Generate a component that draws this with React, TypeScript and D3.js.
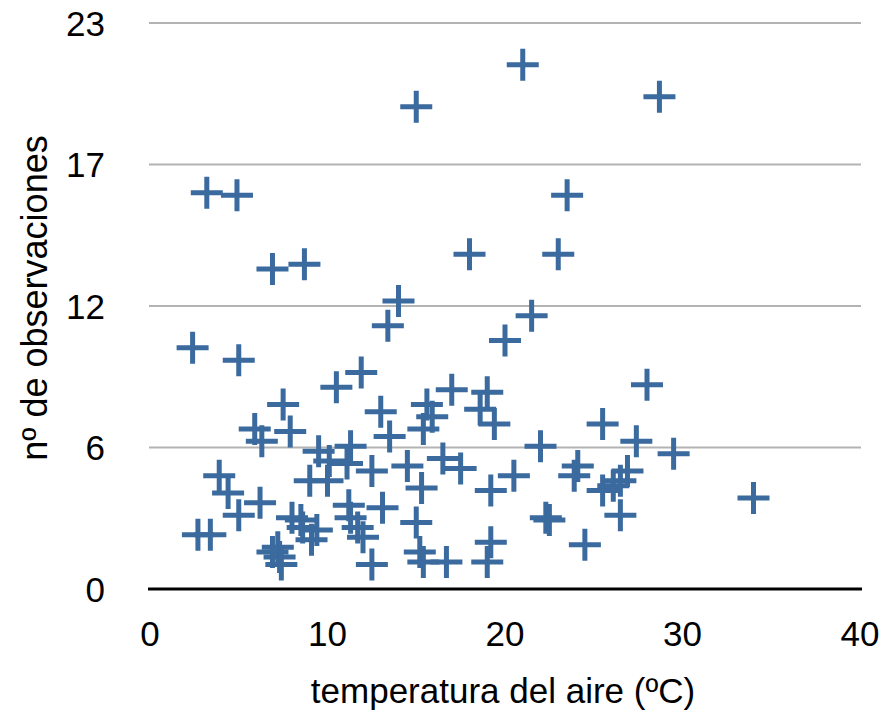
import React from "react";
import * as d3 from "d3";

// temperatura del aire (ºC)
const temperatures = [
  21.0, 15.0, 28.7, 3.2, 4.9, 6.9, 8.7, 14.0, 13.4, 18.0, 23.5, 23.0, 20.0, 21.5,
  2.4, 5.0, 7.5, 5.9, 6.3, 7.9, 10.5, 11.9, 13.0, 13.5, 9.5, 11.3, 10.1, 11.1,
  9.0, 10.0, 12.5, 3.9, 4.4, 5.0, 6.2, 2.7, 3.4, 8.5, 8.6, 9.1, 11.2, 11.3,
  11.7, 12.0, 13.1, 12.5, 7.2, 7.3, 6.9, 7.4, 17.0, 15.6, 15.9, 15.4, 19.0, 18.6,
  19.4, 25.5, 22.0, 14.5, 15.3, 16.5, 17.5, 19.2, 20.5, 24.1, 23.9, 25.5, 26.1, 26.5,
  15.0, 22.3, 22.5, 15.2, 15.4, 16.7, 19.2, 19.0, 24.5, 28.0, 27.4, 29.5, 26.9, 26.5,
  34.0, 8.0, 9.4,
];

// nº de observaciones
const observations = [
  21.3, 19.6, 20.0, 16.1, 16.0, 13.0, 13.2, 11.7, 10.7, 13.6, 16.0, 13.6, 10.1, 11.1,
  9.8, 9.3, 7.5, 6.5, 6.0, 6.4, 8.2, 8.8, 7.2, 6.2, 5.6, 5.8, 5.2, 5.1,
  4.4, 4.4, 4.8, 4.6, 3.9, 3.0, 3.5, 2.2, 2.2, 2.8, 2.5, 2.0, 3.4, 2.9,
  2.5, 2.1, 3.3, 1.0, 1.7, 1.3, 1.5, 1.0, 8.1, 7.5, 7.0, 6.5, 8.0, 7.3,
  6.7, 6.7, 5.8, 5.0, 4.1, 5.3, 4.9, 4.0, 4.6, 5.0, 4.6, 4.0, 4.2, 4.4,
  2.7, 2.9, 2.8, 1.5, 1.1, 1.1, 1.9, 1.1, 1.8, 8.3, 6.0, 5.5, 4.8, 3.0,
  3.7, 2.9, 2.4,
];

const xTicks = [0, 10, 20, 30, 40];
const yTicks = [0, 5.75, 11.5, 17.25, 23];
const yTickLabels = ["0", "6", "12", "17", "23"];

const width = 883;
const height = 713;
const margin = { top: 23, right: 23, bottom: 124, left: 150 };
const font = "'Liberation Sans', Arial, Helvetica, sans-serif";

const App = () => {
  const x = d3.scaleLinear().domain([0, 40]).range([margin.left, width - margin.right]);
  const y = d3.scaleLinear().domain([0, 23]).range([height - margin.bottom, margin.top]);

  const points = temperatures.map((t, i) => ({ t, n: observations[i] }));
  const arm = 16;

  return (
    <>
      <style>{"body{margin:0}"}</style>
      <svg width={width} height={height} style={{ display: "block", background: "#fff" }}>
        {/* gridlines */}
        {yTicks.slice(1).map((v) => (
          <line key={v} x1={margin.left - 1} x2={width - margin.right + 1} y1={y(v)} y2={y(v)}
            stroke="#b3b3b3" strokeWidth={2} />
        ))}
        {/* x axis line */}
        <line x1={margin.left - 2} x2={width - margin.right + 2} y1={y(0)} y2={y(0)}
          stroke="#000" strokeWidth={3} />

        {/* y tick labels */}
        {yTicks.map((v, i) => (
          <text key={v} x={margin.left - 45} y={y(v)} textAnchor="end" dominantBaseline="central"
            fontFamily={font} fontSize={35} fill="#000">
            {yTickLabels[i]}
          </text>
        ))}
        {/* x tick labels */}
        {xTicks.map((v) => (
          <text key={v} x={x(v)} y={y(0) + 44} textAnchor="middle" dominantBaseline="central"
            fontFamily={font} fontSize={35} fill="#000">
            {v}
          </text>
        ))}

        {/* axis titles */}
        <text x={(margin.left + width - margin.right) / 2 - 2} y={690} textAnchor="middle"
          dominantBaseline="central" fontFamily={font} fontSize={35} fill="#000">
          temperatura del aire (ºC)
        </text>
        <text transform={`translate(34,${(margin.top + y(0)) / 2 - 8}) rotate(-90)`} textAnchor="middle"
          dominantBaseline="central" fontFamily={font} fontSize={36} fill="#000">
          nº de observaciones
        </text>

        {/* markers */}
        {points.map((d, i) => (
          <path key={i}
            d={`M${x(d.t) - arm},${y(d.n)}H${x(d.t) + arm}M${x(d.t)},${y(d.n) - arm}V${y(d.n) + arm}`}
            stroke="#3a6a9e" strokeWidth={5} fill="none" />
        ))}
      </svg>
    </>
  );
};

export default App;
